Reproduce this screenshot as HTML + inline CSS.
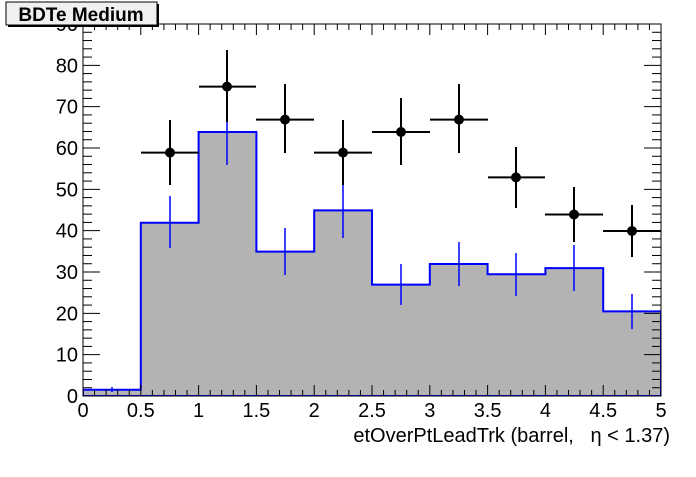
<!DOCTYPE html>
<html><head><style>body{margin:0;background:#fff}</style></head><body>
<svg width="696" height="472" xmlns="http://www.w3.org/2000/svg" font-family="Liberation Sans, Arial, sans-serif">
<rect width="696" height="472" fill="#fff"/>
<defs><clipPath id="c"><rect x="83" y="24" width="578" height="372"/></clipPath></defs>
<g clip-path="url(#c)">
<path d="M83,396 V389.8 H140.8 V222.8 H198.6 V132 H256.4 V251.6 H314.2 V210.4 H372 V284.6 H429.8 V264 H487.6 V274.3 H545.4 V268.1 H603.2 V311.4 H661 V396 Z" fill="#b3b3b3" stroke="#0000ff" stroke-width="2"/>
<g stroke="#0000ff" stroke-width="1.5">
<line x1="112" y1="387" x2="112" y2="392"/>
<line x1="170" y1="196" x2="170" y2="248"/>
<line x1="227" y1="99" x2="227" y2="165"/>
<line x1="285" y1="228" x2="285" y2="275"/>
<line x1="343" y1="183" x2="343" y2="238"/>
<line x1="401" y1="264" x2="401" y2="305"/>
<line x1="459" y1="242" x2="459" y2="286"/>
<line x1="516" y1="253" x2="516" y2="296"/>
<line x1="574" y1="245" x2="574" y2="291"/>
<line x1="632" y1="294" x2="632" y2="329"/>
</g>
<g stroke="#000" stroke-width="2" fill="#000">
<g><line x1="141" y1="152.6" x2="199" y2="152.6"/><line x1="170" y1="120" x2="170" y2="185"/><circle cx="170" cy="152.6" r="4"/></g>
<g><line x1="199" y1="86.6" x2="256" y2="86.6"/><line x1="227" y1="50" x2="227" y2="122"/><circle cx="227" cy="86.6" r="4"/></g>
<g><line x1="256" y1="119.6" x2="314" y2="119.6"/><line x1="285" y1="84" x2="285" y2="153"/><circle cx="285" cy="119.6" r="4"/></g>
<g><line x1="314" y1="152.6" x2="372" y2="152.6"/><line x1="343" y1="120" x2="343" y2="185"/><circle cx="343" cy="152.6" r="4"/></g>
<g><line x1="372" y1="132" x2="430" y2="132"/><line x1="401" y1="98" x2="401" y2="165"/><circle cx="401" cy="132" r="4"/></g>
<g><line x1="430" y1="119.6" x2="488" y2="119.6"/><line x1="459" y1="84" x2="459" y2="153"/><circle cx="459" cy="119.6" r="4"/></g>
<g><line x1="488" y1="177.4" x2="545" y2="177.4"/><line x1="516" y1="147" x2="516" y2="208"/><circle cx="516" cy="177.4" r="4"/></g>
<g><line x1="545" y1="214.5" x2="603" y2="214.5"/><line x1="574" y1="187" x2="574" y2="242"/><circle cx="574" cy="214.5" r="4"/></g>
<g><line x1="603" y1="231" x2="661" y2="231"/><line x1="632" y1="205" x2="632" y2="257"/><circle cx="632" cy="231" r="4"/></g>
</g>
</g>
<rect x="83" y="24" width="578" height="372" fill="none" stroke="#000" stroke-width="1"/>
<g stroke="#000" stroke-width="1" id="ticks"></g>
<g font-size="20" fill="#000" text-anchor="middle" id="xl"></g>
<g font-size="20" fill="#000" text-anchor="end" id="yl"></g>
<text x="670" y="442" font-size="20" text-anchor="end">etOverPtLeadTrk (barrel,&#160;&#160; η &lt; 1.37)</text>
<g id="box">
<rect x="6" y="2" width="151" height="23" fill="#f0f0f0" stroke="#000" stroke-width="1"/>
<rect x="8" y="25" width="151" height="2" fill="#000"/><rect x="157" y="4" width="2" height="23" fill="#000"/>
<text x="81" y="21" font-size="19" font-weight="bold" text-anchor="middle">BDTe Medium</text>
</g>
<script>
var ns="http://www.w3.org/2000/svg",t=document.getElementById("ticks"),xl=document.getElementById("xl"),yl=document.getElementById("yl");
function L(a,b,c,d){var l=document.createElementNS(ns,"line");l.setAttribute("x1",a);l.setAttribute("y1",b);l.setAttribute("x2",c);l.setAttribute("y2",d);t.appendChild(l);}
function T(p,x,y,s){var e=document.createElementNS(ns,"text");e.setAttribute("x",x);e.setAttribute("y",y);e.textContent=s;p.appendChild(e);}
for(var i=0;i<=50;i++){var x=83+i*11.56,h=(i%5==0)?11:6;L(x,396,x,396-h);L(x,24,x,24+h);if(i%5==0)T(xl,x,417,String(i/10));}
for(var v=0;v<=90;v+=2){var y=396-v*4.1333,w=(v%10==0)?17:9;L(83,y,83+w,y);L(661,y,661-w,y);if(v%10==0)T(yl,78,y+7,String(v));}
var svg=document.querySelector("svg");svg.appendChild(document.getElementById("box"));
</script>
</svg>
</body></html>
